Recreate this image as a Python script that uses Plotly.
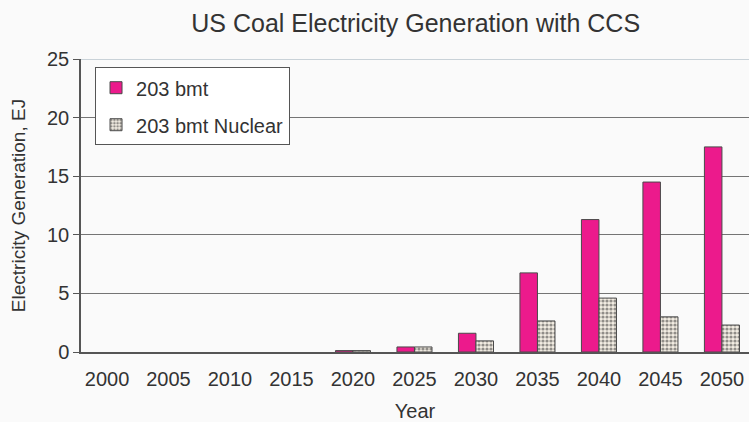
import plotly.graph_objects as go

years = ["2000", "2005", "2010", "2015", "2020", "2025", "2030", "2035", "2040", "2045", "2050"]
# no CCS generation before 2020 (left empty)
coal_203bmt = [None, None, None, None, 0.12, 0.43, 1.6, 6.75, 11.3, 14.5, 17.5]
coal_203bmt_nuclear = [None, None, None, None, 0.12, 0.43, 0.95, 2.65, 4.6, 3.0, 2.3]

FONT = "Arial, Liberation Sans, sans-serif"
TEXT = "#333333"
BG = "#FAFAFA"

fig = go.Figure()
fig.add_trace(go.Bar(
    x=years, y=coal_203bmt, name="203 bmt",
    legendgroup="a",
    marker=dict(color="#EC1A8C", line=dict(color="#4a4a4a", width=1)),
))
fig.add_trace(go.Bar(
    x=years, y=coal_203bmt_nuclear, name="203 bmt Nuclear",
    legendgroup="b",
    marker=dict(
        color="#F2ECE2",
        line=dict(color="#4a4a4a", width=1),
        pattern=dict(shape=".", fgcolor="#2e2e2e", bgcolor="#F2ECE2", size=4, solidity=0.5),
    ),
))

fig.add_shape(type="line", xref="paper", yref="y", x0=0, x1=1, y0=25, y1=25,
              line=dict(color="#B8C4CC", width=1.5), layer="above")

fig.update_layout(
    width=749, height=422,
    margin=dict(l=81, r=0, t=59, b=70),
    paper_bgcolor=BG, plot_bgcolor=BG,
    font=dict(family=FONT, size=20, color=TEXT),
    title=dict(text="US Coal Electricity Generation with CCS", x=0.555, xanchor="center",
               y=0.945, yanchor="middle", font=dict(size=25, color=TEXT)),
    barmode="group", bargap=0.43, bargroupgap=0,
    showlegend=True,
    legend=dict(x=0.021, y=0.972, xanchor="left", yanchor="top",
                bgcolor="#FFFFFF", bordercolor="#555555", borderwidth=1,
                font=dict(size=20, color=TEXT), traceorder="grouped",
                tracegroupgap=8, itemwidth=30),
)
fig.update_xaxes(
    type="category", range=[-0.423, 10.44],
    showline=True, linecolor="#555555", linewidth=1.5,
    ticks="", showgrid=False, ticklabelstandoff=8,
    tickfont=dict(size=20, color=TEXT),
    title=dict(text="Year", font=dict(size=20, color=TEXT), standoff=18),
)
fig.update_yaxes(
    range=[0, 25], dtick=5,
    showline=True, linecolor="#555555", linewidth=1.5,
    ticks="outside", ticklen=6, tickcolor="#555555",
    showgrid=True, gridcolor="#747474", gridwidth=1,
    zeroline=False,
    tickfont=dict(size=20, color=TEXT),
    title=dict(text="Electricity Generation, EJ", font=dict(size=19, color=TEXT), standoff=16),
)

fig.write_html("out.html")
